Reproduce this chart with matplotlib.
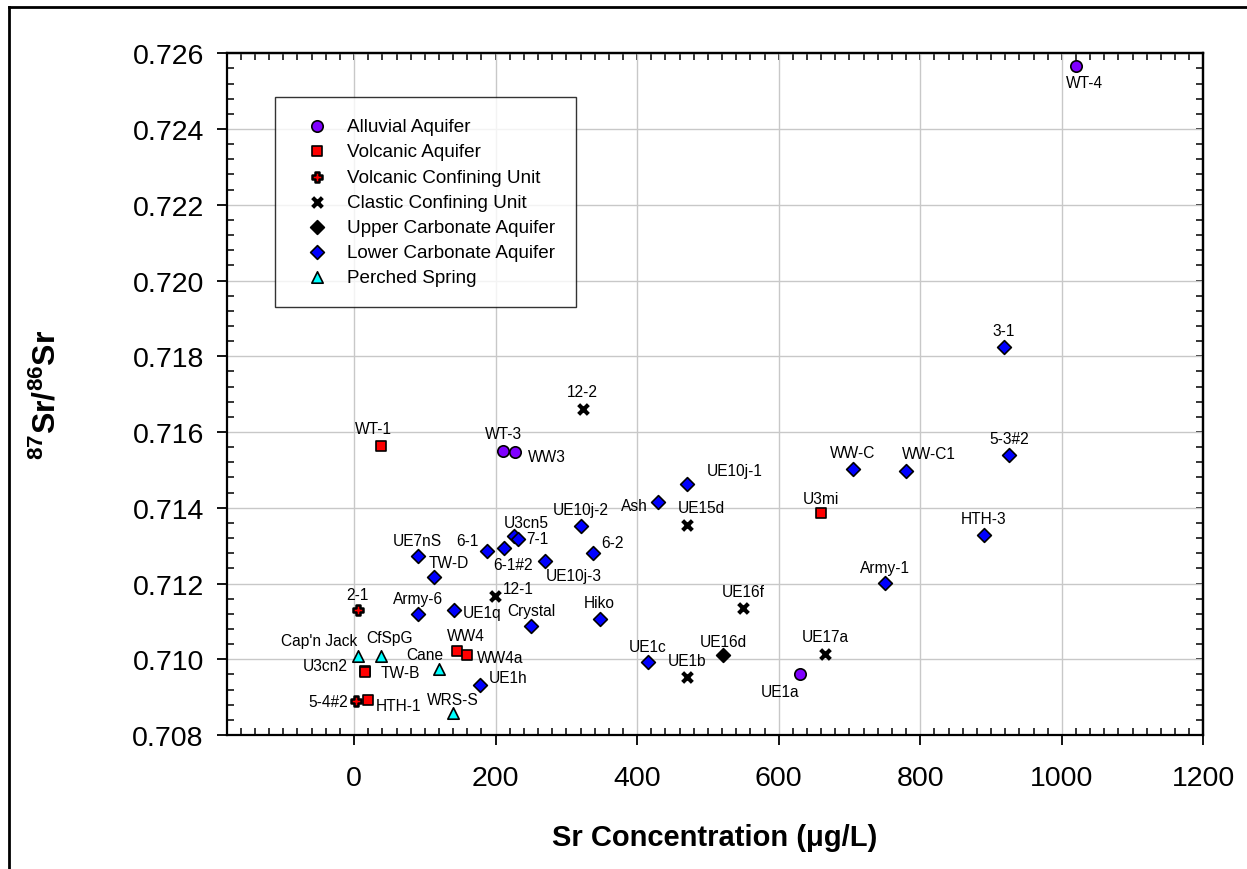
import numpy as np
import matplotlib.pyplot as plt
from matplotlib.ticker import MultipleLocator, FormatStrFormatter
from matplotlib.lines import Line2D

plt.rcParams['font.family'] = ['Liberation Sans', 'DejaVu Sans']
plt.rcParams['mathtext.fontset'] = 'custom'
plt.rcParams['mathtext.bf'] = 'Liberation Sans:bold'
plt.rcParams['mathtext.rm'] = 'Liberation Sans'

# --------------------------
# Sr data by hydrogeologic unit: (well name, Sr ug/L, 87Sr/86Sr)
# --------------------------
alluvial_names = ['WT-4', 'WT-3', 'WW3', 'UE1a']
alluvial_sr = [1020, 211, 228, 630]
alluvial_ratio = [0.72567, 0.71549, 0.71547, 0.70962]

volcanic_names = ['WT-1', 'U3cn2', 'TW-B', 'HTH-1', 'WW4', 'WW4a', 'U3mi']
volcanic_sr = [38, 16, 16, 20, 146, 159, 660]
volcanic_ratio = [0.71564, 0.70968, 0.70967, 0.70892, 0.71023, 0.71010, 0.71385]

vcu_names = ['2-1', '5-4#2']
vcu_sr = [5, 2]
vcu_ratio = [0.71130, 0.70889]

clastic_names = ['12-2', '12-1', 'UE15d', 'UE16f', 'UE17a', 'UE1b']
clastic_sr = [323, 199, 471, 550, 666, 470]
clastic_ratio = [0.71661, 0.71168, 0.71355, 0.71135, 0.71014, 0.70952]

upper_names = ['UE16d']
upper_sr = [521]
upper_ratio = [0.71010]

lower_names = ['3-1', '5-3#2', 'WW-C', 'WW-C1', 'HTH-3', 'Army-1', 'UE10j-1', 'Ash',
               'UE10j-2', 'U3cn5', '7-1', '6-1#2', '6-1', '6-2', 'UE10j-3', 'UE7nS',
               'TW-D', 'Army-6', 'UE1q', 'Crystal', 'Hiko', 'UE1c', 'UE1h']
lower_sr = [918, 926, 705, 780, 890, 750, 471, 429,
            320, 226, 231, 212, 188, 337, 270, 90,
            113, 91, 141, 250, 347, 415, 178]
lower_ratio = [0.71824, 0.71539, 0.71502, 0.71498, 0.71328, 0.71201, 0.71463, 0.71414,
               0.71352, 0.71325, 0.71318, 0.71294, 0.71287, 0.71280, 0.71260, 0.71272,
               0.71217, 0.71119, 0.71130, 0.71087, 0.71107, 0.70992, 0.70933]

perched_names = ["Cap'n Jack", 'CfSpG', 'Cane', 'WRS-S']
perched_sr = [5, 38, 120, 140]
perched_ratio = [0.71009, 0.71009, 0.70974, 0.70857]

# label offsets in pixels (dx, dy) and alignment
label_pos = {
    'WT-4': (9, -17, 'center'), 'WT-3': (0, 18, 'center'), 'WW3': (12, -4, 'left'),
    'UE1a': (-20, -18, 'center'),
    'WT-1': (-8, 17, 'center'), 'U3cn2': (-18, 6, 'right'), 'TW-B': (15, -1, 'left'),
    'HTH-1': (8, -5, 'left'), 'WW4': (8, 15, 'center'), 'WW4a': (10, -2, 'left'),
    'U3mi': (0, 15, 'center'),
    '2-1': (0, 16, 'center'), '5-4#2': (-7, 0, 'right'),
    '12-2': (0, 17, 'center'), '12-1': (8, 7, 'left'), 'UE15d': (-10, 17, 'left'),
    'UE16f': (0, 17, 'center'), 'UE17a': (0, 17, 'center'), 'UE1b': (0, 17, 'center'),
    'UE16d': (0, 14, 'center'),
    '3-1': (0, 17, 'center'), '5-3#2': (0, 17, 'center'), 'WW-C': (0, 17, 'center'),
    'WW-C1': (23, 17, 'center'), 'HTH-3': (0, 17, 'center'), 'Army-1': (0, 16, 'center'),
    'UE10j-1': (19, 13, 'left'), 'Ash': (-10, -3, 'right'), 'UE10j-2': (0, 16, 'center'),
    'U3cn5': (12, 14, 'center'), '7-1': (9, 0, 'left'), '6-1#2': (-11, -17, 'left'),
    '6-1': (-9, 10, 'right'), '6-2': (9, 11, 'left'), 'UE10j-3': (1, -15, 'left'),
    'UE7nS': (0, 16, 'center'), 'TW-D': (-5, 15, 'left'), 'Army-6': (0, 16, 'center'),
    'UE1q': (9, -2, 'left'), 'Crystal': (0, 16, 'center'), 'Hiko': (0, 16, 'center'),
    'UE1c': (0, 16, 'center'), 'UE1h': (9, 7, 'left'),
    "Cap'n Jack": (0, 15, 'right'), 'CfSpG': (9, 18, 'center'), 'Cane': (4, 15, 'right'),
    'WRS-S': (0, 14, 'center'),
}

fig = plt.figure(figsize=(12.47, 8.70), dpi=100)
ax = fig.add_axes([0.1818, 0.1540, 0.7832, 0.7836])

groups = [
    ('Alluvial Aquifer', alluvial_names, alluvial_sr, alluvial_ratio,
     dict(marker='o', s=8.2**2, facecolor='#8000ff', edgecolor='black', linewidths=1.2)),
    ('Volcanic Aquifer', volcanic_names, volcanic_sr, volcanic_ratio,
     dict(marker='s', s=7.2**2, facecolor='#ff0000', edgecolor='black', linewidths=1.2)),
    ('Volcanic Confining Unit', vcu_names, vcu_sr, vcu_ratio,
     dict(marker='P', s=6.5**2, facecolor='#ff0000', edgecolor='black', linewidths=1.8)),
    ('Clastic Confining Unit', clastic_names, clastic_sr, clastic_ratio,
     dict(marker='x', s=7**2, color='black', linewidths=3)),
    ('Upper Carbonate Aquifer', upper_names, upper_sr, upper_ratio,
     dict(marker='D', s=7**2, facecolor='black', edgecolor='black', linewidths=1.2)),
    ('Lower Carbonate Aquifer', lower_names, lower_sr, lower_ratio,
     dict(marker='D', s=7**2, facecolor='#0000ff', edgecolor='black', linewidths=1.2)),
    ('Perched Spring', perched_names, perched_sr, perched_ratio,
     dict(marker='^', s=8.2**2, facecolor='#00ffff', edgecolor='black', linewidths=1.2)),
]

for label, names, sr, ratio, style in groups:
    ax.scatter(sr, ratio, label=label, zorder=3, clip_on=False, **style)
    for n, x, y in zip(names, sr, ratio):
        dx, dy, ha = label_pos[n]
        ax.annotate(n, (x, y), xytext=(dx, dy), textcoords='offset pixels',
                    ha=ha, va='center', fontsize=11.2, zorder=4)

# axes: SigmaPlot style ticks
ax.set_xlim(-180, 1200)
ax.set_ylim(0.708, 0.726)
ax.xaxis.set_major_locator(MultipleLocator(200))
ax.xaxis.set_minor_locator(MultipleLocator(20))
ax.yaxis.set_major_locator(MultipleLocator(0.002))
ax.yaxis.set_minor_locator(MultipleLocator(0.0004))
ax.yaxis.set_major_formatter(FormatStrFormatter('%.3f'))
ax.set_xticks([0, 200, 400, 600, 800, 1000, 1200])
ax.tick_params(which='major', direction='out', length=7.5, width=1.3, labelsize=20.5)
ax.tick_params(axis='x', which='major', pad=14)
ax.tick_params(axis='y', which='major', pad=9)
ax.tick_params(which='minor', direction='in', length=5, width=1.1)
ax.grid(True, which='major', color='#c8c8c8', linewidth=1.0, zorder=0)
ax.set_axisbelow(True)
for sp in ax.spines.values():
    sp.set_linewidth(1.6)

top = ax.secondary_xaxis('top')
top.xaxis.set_major_locator(MultipleLocator(20))
top.tick_params(which='major', direction='in', length=5, width=1.1, labeltop=False)
right = ax.secondary_yaxis('right')
right.yaxis.set_major_locator(MultipleLocator(0.0004))
right.tick_params(which='major', direction='in', length=5, width=1.1, labelright=False)
top.spines['top'].set_linewidth(1.6)
right.spines['right'].set_linewidth(1.6)

ax.set_xlabel('Sr Concentration (μg/L)', fontsize=21, fontweight='bold')
ax.xaxis.set_label_coords(0.5, -0.150)
ax.xaxis.label.set_va('center')
ax.set_ylabel(r'$\mathbf{^{87}Sr/^{86}Sr}$', fontsize=23)
ax.yaxis.set_label_coords(-0.184, 0.5)
ax.yaxis.label.set_va('center')

leg = ax.legend(loc='upper left', bbox_to_anchor=(275 / 1247, 1 - 98.3 / 870),
                bbox_transform=fig.transFigure, borderaxespad=0, fontsize=13.6,
                frameon=True, fancybox=False, shadow=False, scatterpoints=1,
                borderpad=1.1, labelspacing=0.42, handlelength=2.2, handletextpad=0.5)
leg.get_frame().set_edgecolor('black')
leg.get_frame().set_linewidth(1.0)

# outer frame around the figure
fig.add_artist(Line2D([9 / 1247, 9 / 1247], [0, 1 - 8 / 870], color='black', lw=2,
                      transform=fig.transFigure))
fig.add_artist(Line2D([9 / 1247, 1], [1 - 8 / 870, 1 - 8 / 870], color='black',
                      lw=2, transform=fig.transFigure))

fig.savefig('out.png', dpi=100)
